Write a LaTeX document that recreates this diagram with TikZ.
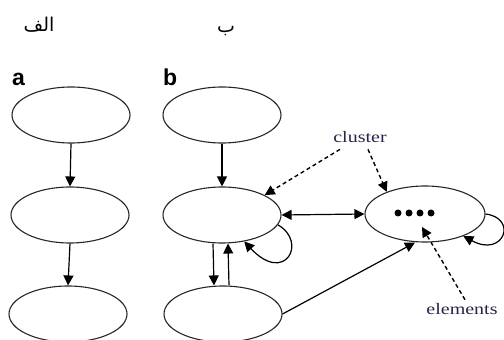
\documentclass[tikz,border=0pt]{standalone}
\usepackage{fontspec}
\setmainfont{Liberation Serif}
\newfontfamily\labsans{Liberation Sans}
\newfontfamily\arabicfont[Script=Arabic]{DejaVu Sans}
\TeXXeTstate=1
\usetikzlibrary{arrows.meta,shapes.geometric}
\definecolor{txtc}{RGB}{40,35,75}
\tikzset{
  ell/.style={draw=black!85, line width=1.1pt, ellipse, minimum width=118pt, minimum height=56pt, inner sep=0pt},
  arr/.style={line width=1.2pt, -{Triangle[length=10pt,width=10pt]}},
  darr/.style={line width=1.2pt, {Triangle[length=10pt,width=10pt]}-{Triangle[length=10pt,width=10pt]}},
  dasharr/.style={line width=1.4pt, dash pattern=on 4pt off 3pt, -{Triangle[length=10pt,width=10pt]}},
  panel/.style={font=\labsans\bfseries\fontsize{23}{26}\selectfont, inner sep=0pt, anchor=base west},
  annot/.style={font=\fontsize{16}{18}\selectfont, text=txtc, inner sep=0pt, anchor=base},
  artext/.style={font=\arabicfont\fontsize{19}{22}\selectfont, inner sep=0pt, anchor=base},
  dot/.style={circle, fill=black, inner sep=0pt, minimum size=7pt}
}
\begin{document}
\begin{tikzpicture}[x=1pt,y=1pt]
\useasboundingbox (0,0) rectangle (504,340);
% Arabic headings
\node[artext] (alef) at (39,308) {\beginR الف\endR};
\node[artext] (beh) at (226,307) {\beginR ب\endR};
% panel labels
\node[panel] (la) at (12,254) {a};
\node[panel] (lb) at (163,254) {b};
% column a
\node[ell] (a1) at (71,225) {};
\node[ell] (a2) at (70,125) {};
\node[ell] (a3) at (68,26) {};
% column b
\node[ell] (b1) at (222,225) {};
\node[ell] (b2) at (222,125) {};
\node[ell] (b3) at (223,26) {};
% cluster
\node[ell, minimum width=120pt] (c) at (425,126) {};
\node[dot] (d1) at (398,127) {};
\node[dot] (d2) at (409,127) {};
\node[dot] (d3) at (420,127) {};
\node[dot] (d4) at (431,127) {};
% annotations
\node[annot] (cl) at (360,197) {\scalebox{1.25}[1]{cluster}};
\node[annot] (el) at (462,25) {\scalebox{1.25}[1]{elements}};
% arrows a
\draw[arr] (a1.south) -- (a2.north);
\draw[arr] (a2.south) -- (a3.north);
% arrows b
\draw[arr] (b1.south) -- (b2.north);
\draw[arr] ([xshift=-9pt]b2.south) -- ([xshift=-9pt]b3.north);
\draw[arr] ([xshift=6pt]b3.north) -- ([xshift=6pt]b2.south);
\draw[darr] (b2.east) -- (c.west);
\draw[arr] (b3.east) -- ([xshift=-10pt]c.south);
% self loops
\draw[arr] (b2.-10) .. controls (308,98) and (285,55) .. (b2.-50);
\draw[arr] (c.east) .. controls (518,122) and (504,82) .. (c.-30);
% dashed annotation arrows
\draw[dasharr] ([xshift=-20pt,yshift=-6pt]cl.south) -- (b2.25);
\draw[dasharr] ([xshift=8pt,yshift=-6pt]cl.south) -- (c.150);
\coordinate (elt) at ([xshift=-3pt,yshift=-13pt]c.center);
\draw[dasharr] ([xshift=3pt,yshift=4pt]el.north) -- (elt);
\end{tikzpicture}
\end{document}
